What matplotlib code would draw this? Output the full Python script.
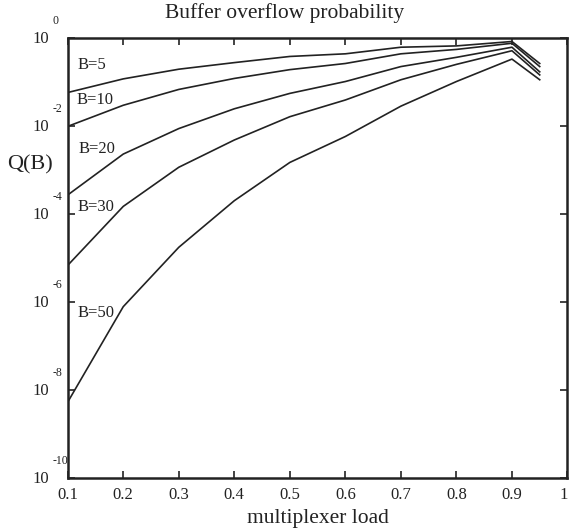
import numpy as np
import matplotlib
matplotlib.use("Agg")
import matplotlib.pyplot as plt
from matplotlib.transforms import blended_transform_factory, offset_copy

plt.rcParams["font.family"] = ["Liberation Serif", "DejaVu Serif"]

# multiplexer load values
load = [0.1, 0.2, 0.3, 0.4, 0.5, 0.6, 0.7, 0.8, 0.9, 0.95]

# log10 of the overflow probability Q(B)
buffer_sizes = ["B=5", "B=10", "B=20", "B=30", "B=50"]
log10_q_b5 = [-1.24, -0.93, -0.71, -0.56, -0.42, -0.36, -0.21, -0.18, -0.08, -0.58]
log10_q_b10 = [-2.01, -1.53, -1.17, -0.92, -0.72, -0.58, -0.36, -0.26, -0.12, -0.65]
log10_q_b20 = [-3.57, -2.64, -2.06, -1.61, -1.26, -0.99, -0.65, -0.44, -0.21, -0.77]
log10_q_b30 = [-5.17, -3.83, -2.94, -2.32, -1.79, -1.41, -0.95, -0.60, -0.29, -0.84]
log10_q_b50 = [-8.28, -6.11, -4.76, -3.70, -2.83, -2.24, -1.55, -0.99, -0.48, -0.95]

# where each curve label sits (load, Q)
label_pos = [(0.118, 10 ** -0.62), (0.116, 10 ** -1.42), (0.12, 10 ** -2.52),
             (0.118, 10 ** -3.84), (0.118, 10 ** -6.25)]

x_ticks = [0.1, 0.2, 0.3, 0.4, 0.5, 0.6, 0.7, 0.8, 0.9, 1.0]
x_tick_labels = ["0.1", "0.2", "0.3", "0.4", "0.5", "0.6", "0.7", "0.8", "0.9", "1"]
y_exponents = [0, -2, -4, -6, -8, -10]

fig = plt.figure(figsize=(5.7, 5.32), dpi=100)
ax = fig.add_axes([0.1188, 0.102, 0.8768, 0.8266])

series = [log10_q_b5, log10_q_b10, log10_q_b20, log10_q_b30, log10_q_b50]
for name, vals, pos in zip(buffer_sizes, series, label_pos):
    ax.plot(load, 10 ** np.array(vals), color="#222222", lw=1.2)
    ax.text(pos[0], pos[1], name, fontsize=12, ha="left", va="center",
            color="#222222")

ax.set_yscale("log")
ax.set_xlim(0.1, 1.0)
ax.set_ylim(1e-10, 1)
ax.set_xticks(x_ticks)
ax.set_xticklabels(x_tick_labels, fontsize=12, color="#222222")
# keep the last label ("1") inside the figure edge
ax.get_xticklabels()[-1].set_horizontalalignment("right")
ax.set_yticks([10.0 ** e for e in y_exponents])
ax.yaxis.set_minor_locator(matplotlib.ticker.NullLocator())
ax.set_yticklabels([])
ax.tick_params(direction="in", length=5, width=1.2, top=True, right=True,
               pad=7, colors="#222222")
for sp in ax.spines.values():
    sp.set_linewidth(1.8)
    sp.set_color("#222222")

# MATLAB-style y tick labels: "10" with a raised exponent
tr = blended_transform_factory(ax.transAxes, ax.transData)
tr_base = offset_copy(tr, fig=fig, x=-19, y=-1, units="dots")
tr_exp = offset_copy(tr, fig=fig, x=-15, y=17, units="dots")
for e in y_exponents:
    ax.text(0, 10.0 ** e, "10", transform=tr_base, fontsize=12,
            ha="right", va="center", color="#222222")
    ax.text(0, 10.0 ** e, str(e), transform=tr_exp, fontsize=8.5,
            ha="left", va="center", color="#222222")

fig.text(0.5, 0.976, "Buffer overflow probability", fontsize=15.5,
         ha="center", va="center", color="#222222")
fig.text(0.053, 0.69, "Q(B)", fontsize=16, ha="center", va="center",
         color="#222222")
fig.text(0.558, 0.026, "multiplexer load", fontsize=15.5, ha="center",
         va="center", color="#222222")

fig.savefig("out.png", dpi=100)
